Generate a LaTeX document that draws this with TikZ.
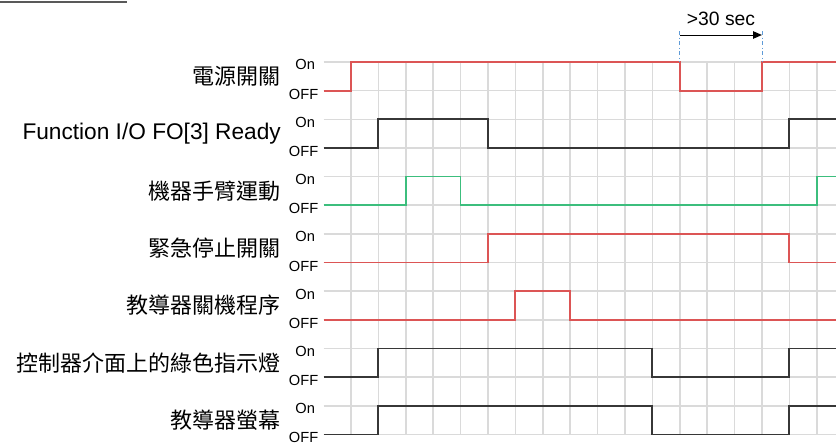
\documentclass[tikz,border=0pt]{standalone}
\usepackage{fontspec}
\setmainfont{Liberation Sans}
\newfontfamily\cjk{Noto Sans CJK TC}
\definecolor{sigred}{RGB}{220,85,85}
\definecolor{siggreen}{RGB}{60,190,125}
\definecolor{sigblack}{RGB}{55,55,55}
\definecolor{gridgray}{RGB}{218,218,218}
\definecolor{markblue}{RGB}{95,155,215}
\usetikzlibrary{arrows.meta}
\tikzset{
  gridline/.style={draw=gridgray, line width=1.2pt},
  sig/.style={line width=1.3pt},
  rowname/.style={anchor=east, inner sep=0pt,
    font=\fontsize{16.5}{18}\selectfont},
  lvl/.style={anchor=east, inner sep=0pt,
    font=\fontsize{11}{12}\selectfont},
  markline/.style={draw=markblue, line width=0.6pt, dash dot},
  gaparrow/.style={-{Triangle[length=6.5pt,width=5.5pt]}, line width=0.7pt, color=black},
}

\begin{document}
\begin{tikzpicture}[x=0.75pt, y=-0.75pt]
\useasboundingbox (0,0) rectangle (836,446);
\draw[gray!70!black, line width=0.9pt] (0,2) -- (127,2);

% grid
\begin{scope}[shift={(323.5,62)}, xscale=27.4, yscale=28.65]
  \foreach \k in {1,...,18}
    \draw[gridline] (\k,0) -- (\k,13);
  \foreach \r in {0,...,13}
    \draw[gridline] (0,\r) -- (18.7,\r);
\end{scope}

% signals
\foreach \i/\id/\name/\col/\wave in {
  0/power/{\cjk 電源開關}/sigred/{(0,1) -| (1,0) -| (13,1) -| (16,0) -- (18.7,0)},
  1/foready/{\fontsize{17}{18}\selectfont Function I/O FO[3] Ready}/sigblack/{(0,1) -| (2,0) -| (6,1) -| (17,0) -- (18.7,0)},
  2/armmove/{\cjk 機器手臂運動}/siggreen/{(0,1) -| (3,0) -| (5,1) -| (18,0) -- (18.7,0)},
  3/estop/{\cjk 緊急停止開關}/sigred/{(0,1) -| (6,0) -| (17,1) -- (18.7,1)},
  4/tpoff/{\cjk 教導器關機程序}/sigred/{(0,1) -| (7,0) -| (9,1) -- (18.7,1)},
  5/greenled/{\cjk 控制器介面上的綠色指示燈}/sigblack/{(0,1) -| (2,0) -| (12,1) -| (17,0) -- (18.7,0)},
  6/tpscreen/{\cjk 教導器螢幕}/sigblack/{(0,1) -| (2,0) -| (12,1) -| (17,0) -- (18.7,0)}
}{
  \begin{scope}[shift={(323.5,62+57.3*\i)}, xscale=27.4, yscale=28.65]
    \draw[sig, \col] \wave;
    \node[lvl] (\id-on) at (-0.3,0.1) {On};
    \node[lvl] (\id-off) at (-0.18,1.12) {OFF};
    \node[rowname] (\id) at (-1.55,0.5) {\name};
  \end{scope}
}

% >30 sec gap
\coordinate (gapstart) at (679.7,35);
\coordinate (gapend) at (761.9,35);
\draw[markline] (679.7,31) -- (679.7,62);
\draw[markline] (761.9,31) -- (761.9,62);
\draw[gaparrow] (gapstart) -- (gapend);
\node[font=\fontsize{14.5}{16}\selectfont] (gap) at (721,19) {>30 sec};
\end{tikzpicture}
\end{document}
